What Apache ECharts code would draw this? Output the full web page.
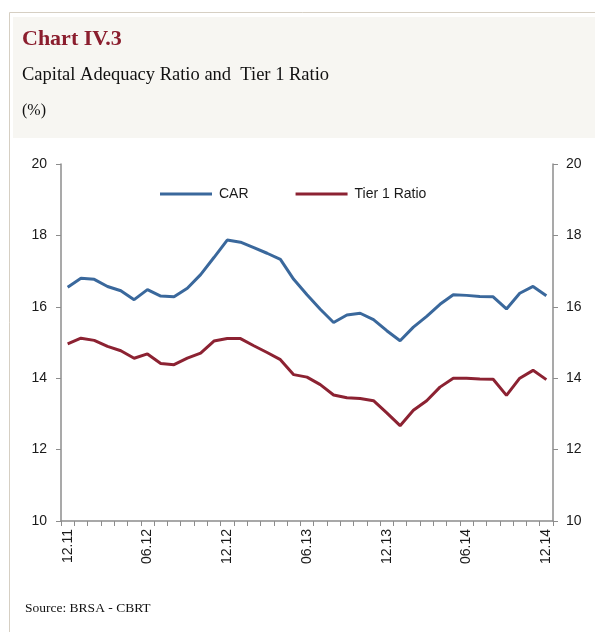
<!DOCTYPE html>
<html>
<head>
<meta charset="utf-8">
<script src="https://cdn.jsdelivr.net/npm/echarts@6/dist/echarts.min.js"></script>
<style>
  html, body { margin: 0; padding: 0; background: #fff; }
  #chart { width: 595px; height: 632px; }
</style>
</head>
<body>
<div id="chart"></div>
<script>
// monthly, 12.11 .. 12.14
const months = [
  "12.11", "01.12", "02.12", "03.12", "04.12", "05.12", "06.12", "07.12", "08.12", "09.12", "10.12", "11.12",
  "12.12", "01.13", "02.13", "03.13", "04.13", "05.13", "06.13", "07.13", "08.13", "09.13", "10.13", "11.13",
  "12.13", "01.14", "02.14", "03.14", "04.14", "05.14", "06.14", "07.14", "08.14", "09.14", "10.14", "11.14",
  "12.14"
];
const car = [
  16.55, 16.80, 16.77, 16.57, 16.45, 16.20, 16.48, 16.30, 16.28, 16.52, 16.90, 17.38,
  17.87, 17.81, 17.66, 17.50, 17.33, 16.77, 16.34, 15.93, 15.56, 15.77, 15.82, 15.64,
  15.33, 15.05, 15.43, 15.73, 16.07, 16.34, 16.32, 16.29, 16.28, 15.94, 16.38, 16.57,
  16.31
];
const tier1 = [
  14.96, 15.12, 15.06, 14.89, 14.77, 14.56, 14.68, 14.41, 14.38, 14.56, 14.70, 15.04,
  15.11, 15.11, 14.91, 14.72, 14.52, 14.10, 14.03, 13.82, 13.53, 13.45, 13.43, 13.37,
  13.03, 12.67, 13.10, 13.37, 13.75, 14.00, 14.00, 13.98, 13.97, 13.52, 14.00, 14.22,
  13.96
];

const chart = echarts.init(document.getElementById("chart"));
const axisCol = "#8c8c8c";
const labelFont = { fontFamily: "Liberation Sans", fontSize: 14, color: "#1a1a1a" };

chart.setOption({
  animation: false,
  backgroundColor: "#ffffff",
  graphic: [
    { type: "rect", silent: true, z: -10, shape: { x: 13, y: 17, width: 582, height: 121 }, style: { fill: "#f7f6f2" } },
    { type: "line", silent: true, shape: { x1: 9.5, y1: 12.5, x2: 595, y2: 12.5 }, style: { stroke: "#d6cfc3", lineWidth: 1 } },
    { type: "line", silent: true, shape: { x1: 9.5, y1: 12.5, x2: 9.5, y2: 632 }, style: { stroke: "#d6cfc3", lineWidth: 1 } },
    { type: "text", left: 22, top: 28, style: { text: "Chart IV.3", font: "bold 22px 'Liberation Serif'", fill: "#8b1e2e" } },
    { type: "text", left: 22, top: 66, style: { text: "Capital Adequacy Ratio and  Tier 1 Ratio", font: "18.5px 'Liberation Serif'", fill: "#111" } },
    { type: "text", left: 22, top: 103, style: { text: "(%)", font: "16px 'Liberation Serif'", fill: "#111" } },
    { type: "text", left: 25, top: 601, style: { text: "Source: BRSA - CBRT", font: "13.5px 'Liberation Serif'", fill: "#111" } }
  ],
  legend: {
    top: 182,
    left: 155,
    itemWidth: 52,
    itemHeight: 3,
    itemGap: 47,
    icon: "rect",
    textStyle: { fontFamily: "Liberation Sans", fontSize: 14, color: "#1a1a1a", padding: [0, 0, 0, 2] },
    data: ["CAR", "Tier 1 Ratio"]
  },
  grid: { left: 61, right: 42, top: 164, bottom: 111, containLabel: false },
  xAxis: {
    type: "category",
    data: months,
    boundaryGap: true,
    axisLine: { lineStyle: { color: axisCol, width: 1.5 } },
    axisTick: { show: true, interval: 0, length: 5, lineStyle: { color: axisCol } },
    axisLabel: Object.assign({ interval: 5, rotate: 90, margin: 8 }, labelFont),
    splitLine: { show: false }
  },
  yAxis: [
    {
      type: "value", min: 10, max: 20, interval: 2, position: "left",
      axisLine: { show: true, lineStyle: { color: axisCol, width: 1.5 } },
      axisTick: { show: true, length: 5, lineStyle: { color: axisCol } },
      axisLabel: Object.assign({ margin: 14 }, labelFont),
      splitLine: { show: false }
    },
    {
      type: "value", min: 10, max: 20, interval: 2, position: "right",
      axisLine: { show: true, lineStyle: { color: axisCol, width: 1.5 } },
      axisTick: { show: true, length: 5, lineStyle: { color: axisCol } },
      axisLabel: Object.assign({ margin: 13 }, labelFont),
      splitLine: { show: false }
    }
  ],
  series: [
    {
      name: "CAR", type: "line", data: car, symbol: "none",
      lineStyle: { color: "#3a689c", width: 3 }, itemStyle: { color: "#3a689c" }
    },
    {
      name: "Tier 1 Ratio", type: "line", data: tier1, symbol: "none",
      lineStyle: { color: "#8c2232", width: 3 }, itemStyle: { color: "#8c2232" }
    }
  ]
});
</script>
</body>
</html>
